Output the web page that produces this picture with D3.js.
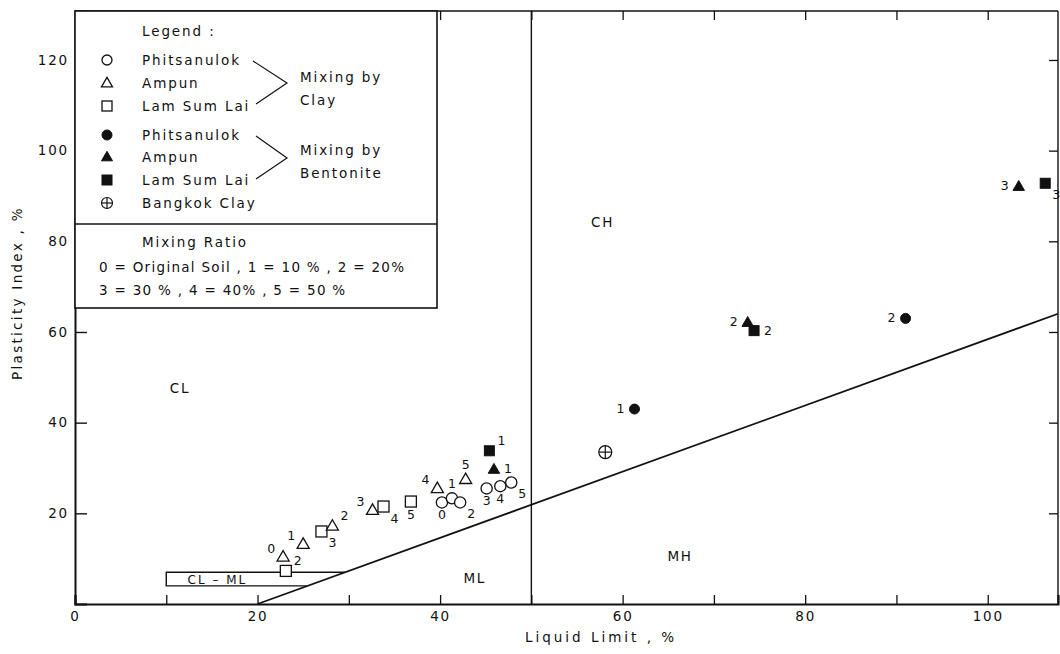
<!DOCTYPE html>
<html>
<head>
<meta charset="utf-8">
<script src="https://cdn.jsdelivr.net/npm/d3@7"></script>
<style>
  html, body { margin: 0; padding: 0; background: #fff; }
  svg { display: block; }
  text { font-family: "DejaVu Sans", "Liberation Sans", sans-serif; fill: #111; }
</style>
</head>
<body>
<svg id="chart" width="1060" height="654"></svg>
<script>
// ---------------- DATA ----------------
// Liquid limit (%) and plasticity index (%)
const ampunClayLL   = [22.8, 25.0, 28.2, 32.6, 39.7, 42.8];
const ampunClayPI   = [10.4, 13.2, 17.2, 20.7, 25.5, 27.5];
const ampunClayLab  = ["0", "1", "2", "3", "4", "5"];
const ampunClaySide = ["tl", "tl", "tr", "tl", "tl", "t"];

const lamClayLL   = [23.1, 27.0, 33.8, 36.8];
const lamClayPI   = [7.3, 16.0, 21.5, 22.6];
const lamClayLab  = ["2", "3", "4", "5"];
const lamClaySide = ["tr", "br", "br", "b"];

const phitClayLL   = [40.2, 41.3, 42.2, 45.1, 46.6, 47.8];
const phitClayPI   = [22.4, 23.3, 22.4, 25.5, 26.0, 26.8];
const phitClayLab  = ["0", "1", "2", "3", "4", "5"];
const phitClaySide = ["b", "t", "br", "b", "b", "br"];

const phitBentLL   = [61.3, 91.0];
const phitBentPI   = [43.0, 63.0];
const phitBentLab  = ["1", "2"];
const phitBentSide = ["l", "l"];

const ampunBentLL   = [45.9, 73.7, 103.4];
const ampunBentPI   = [29.7, 62.1, 92.1];
const ampunBentLab  = ["1", "2", "3"];
const ampunBentSide = ["r", "l", "l"];

const lamBentLL   = [45.4, 74.4, 106.3];
const lamBentPI   = [33.8, 60.3, 92.8];
const lamBentLab  = ["1", "2", "3"];
const lamBentSide = ["tr", "r", "br"];

const bangkokLL = [58.1];
const bangkokPI = [33.5];

const xTickLabels = [0, 20, 40, 60, 80, 100];
const xMinorTicks = [0, 10, 20, 30, 40, 50, 60, 70, 80, 90, 100];
const yTickLabels = [20, 40, 60, 80, 100, 120];

// A-line PI = 0.73 (LL - 20); U boundary at LL = 50; CL-ML band PI 4..7 from LL 10
const aLineSlope = 0.73, aLineOrigin = 20;
const llDivide = 50;
const clmlLow = 4, clmlHigh = 7, clmlStart = 10;

const zoneNames = ["CL", "CH", "ML", "MH"];
const zoneLL    = [11.5, 57.8, 43.8, 66.3];
const zonePI    = [47.6, 84.3, 5.7, 10.6];

// ---------------- LAYOUT ----------------
const svg = d3.select("#chart");
const L = 75, R = 1058, T = 11, B = 604;
const x = d3.scaleLinear().domain([0, 107.7]).range([L, R]);
const y = d3.scaleLinear().domain([0, 130.8]).range([B, T]);
const ink = "#111";

const g = svg.append("g");

// frame (top, right)
g.append("line").attr("x1", L).attr("x2", R).attr("y1", T).attr("y2", T)
  .attr("stroke", ink).attr("stroke-width", 1.6);
g.append("line").attr("x1", R).attr("x2", R).attr("y1", T).attr("y2", B)
  .attr("stroke", ink).attr("stroke-width", 1.4);

// bottom axis: ticks inward
const xAxis = d3.axisBottom(x).tickValues(xMinorTicks).tickSize(-9).tickPadding(7)
  .tickFormat(d => xTickLabels.includes(d) ? d : "");
const gx = g.append("g").attr("transform", `translate(0,${B})`).call(xAxis);
gx.select(".domain").attr("stroke", ink).attr("stroke-width", 2.2);
gx.selectAll(".tick line").attr("stroke", ink).attr("stroke-width", 1.3);
gx.selectAll(".tick text").attr("font-size", 13.5).attr("letter-spacing", 1.8)
  .attr("font-family", "DejaVu Sans").attr("fill", ink);

// top axis ticks inward
const xTop = d3.axisTop(x).tickValues(xMinorTicks.filter(d => d > 0)).tickSize(-9).tickFormat("");
const gxt = g.append("g").attr("transform", `translate(0,${T})`).call(xTop);
gxt.select(".domain").remove();
gxt.selectAll(".tick line").attr("stroke", ink).attr("stroke-width", 1.3);

// left axis ticks inward
const yAxis = d3.axisLeft(y).tickValues(yTickLabels).tickSize(-12).tickPadding(6);
const gy = g.append("g").attr("transform", `translate(${L},0)`).call(yAxis);
gy.select(".domain").attr("stroke", ink).attr("stroke-width", 2);
gy.selectAll(".tick line").attr("stroke", ink).attr("stroke-width", 1.4);
gy.selectAll(".tick text").attr("font-size", 13.5).attr("letter-spacing", 1.8)
  .attr("font-family", "DejaVu Sans").attr("fill", ink);

// right axis ticks inward
const yRight = d3.axisRight(y).tickValues(yTickLabels).tickSize(-9).tickFormat("");
const gyr = g.append("g").attr("transform", `translate(${R},0)`).call(yRight);
gyr.select(".domain").remove();
gyr.selectAll(".tick line").attr("stroke", ink).attr("stroke-width", 1.3);

// axis titles
svg.append("text").attr("x", 601).attr("y", 642).attr("text-anchor", "middle")
  .attr("font-size", 13.5).attr("letter-spacing", 3).text("Liquid Limit , %");
svg.append("text").attr("transform", "translate(22,293) rotate(-90)").attr("text-anchor", "middle")
  .attr("font-size", 13.5).attr("letter-spacing", 2.3).text("Plasticity Index , %");

// vertical LL = 50 line
g.append("line").attr("x1", x(llDivide)).attr("x2", x(llDivide)).attr("y1", y(0)).attr("y2", T)
  .attr("stroke", ink).attr("stroke-width", 1.4);

// A-line
const aLine = ll => aLineSlope * (ll - aLineOrigin);
const llMax = x.domain()[1];
g.append("line").attr("x1", x(aLineOrigin)).attr("y1", y(0))
  .attr("x2", x(llMax)).attr("y2", y(aLine(llMax)))
  .attr("stroke", ink).attr("stroke-width", 1.8);

// CL-ML band
const llAtPI = pi => aLineOrigin + pi / aLineSlope;
g.append("path").attr("fill", "none").attr("stroke", ink).attr("stroke-width", 1.4)
  .attr("d", `M${x(llAtPI(clmlHigh))},${y(clmlHigh)} L${x(clmlStart)},${y(clmlHigh)} L${x(clmlStart)},${y(clmlLow)} L${x(llAtPI(clmlLow))},${y(clmlLow)}`);
g.append("text").attr("x", x(15.6)).attr("y", y((clmlLow + clmlHigh) / 2) + 4.5)
  .attr("text-anchor", "middle").attr("font-size", 12).attr("letter-spacing", 2)
  .text("CL \u2013 ML");

// zone names
g.selectAll("text.zone").data(zoneNames).join("text").attr("class", "zone")
  .attr("x", (d, i) => x(zoneLL[i])).attr("y", (d, i) => y(zonePI[i]) + 5)
  .attr("text-anchor", "middle").attr("font-size", 13.5).attr("letter-spacing", 1.8)
  .text(d => d);

// ---------------- SYMBOLS ----------------
function shape(sel, kind, filled, s) {
  const fill = filled ? ink : "#fff";
  const sw = filled ? 1 : 1.3;
  if (kind === "circle") {
    sel.append("circle").attr("r", s).attr("fill", fill).attr("stroke", ink).attr("stroke-width", sw);
  } else if (kind === "square") {
    sel.append("rect").attr("x", -s).attr("y", -s).attr("width", 2 * s).attr("height", 2 * s)
      .attr("fill", fill).attr("stroke", ink).attr("stroke-width", sw);
  } else if (kind === "triangle") {
    const h = s * 1.9;
    sel.append("path").attr("d", `M0,${-h * 0.6} L${s * 1.1},${h * 0.4} L${-s * 1.1},${h * 0.4} Z`)
      .attr("fill", fill).attr("stroke", ink).attr("stroke-width", sw).attr("stroke-linejoin", "miter");
  } else if (kind === "cross") {
    sel.append("circle").attr("r", s).attr("fill", "#fff").attr("stroke", ink).attr("stroke-width", 1.2);
    sel.append("line").attr("x1", -s).attr("x2", s).attr("stroke", ink).attr("stroke-width", 1.2);
    sel.append("line").attr("y1", -s).attr("y2", s).attr("stroke", ink).attr("stroke-width", 1.2);
  }
}

const sideOffset = {
  l:  [-10, 4, "end"],   r:  [10, 4, "start"],
  t:  [0, -10, "middle"], b: [0, 17, "middle"],
  tl: [-8, -4, "end"],   tr: [8, -6, "start"],
  bl: [-8, 16, "end"],   br: [7, 16, "start"]
};

function series(LL, PI, labels, sides, kind, filled, s) {
  const pts = LL.map((d, i) => ({ ll: d, pi: PI[i], lab: labels ? labels[i] : null, side: sides ? sides[i] : null }));
  const gg = g.append("g");
  const pg = gg.selectAll("g").data(pts).join("g")
    .attr("transform", d => `translate(${x(d.ll)},${y(d.pi)})`);
  pg.each(function () { shape(d3.select(this), kind, filled, s); });
  pg.filter(d => d.lab !== null).append("text")
    .attr("x", d => sideOffset[d.side][0]).attr("y", d => sideOffset[d.side][1])
    .attr("text-anchor", d => sideOffset[d.side][2])
    .attr("font-size", 12.5).text(d => d.lab);
}

series(lamClayLL, lamClayPI, lamClayLab, lamClaySide, "square", false, 5.5);
series(ampunClayLL, ampunClayPI, ampunClayLab, ampunClaySide, "triangle", false, 5.5);
series(phitClayLL, phitClayPI, phitClayLab, phitClaySide, "circle", false, 5.6);
series(phitBentLL, phitBentPI, phitBentLab, phitBentSide, "circle", true, 5);
series(ampunBentLL, ampunBentPI, ampunBentLab, ampunBentSide, "triangle", true, 5.2);
series(lamBentLL, lamBentPI, lamBentLab, lamBentSide, "square", true, 5);
series(bangkokLL, bangkokPI, null, null, "cross", false, 6.5);

// ---------------- LEGEND ----------------
const lg = svg.append("g");
lg.append("rect").attr("x", L).attr("y", T).attr("width", 437 - L).attr("height", 308 - T)
  .attr("fill", "#fff").attr("stroke", ink).attr("stroke-width", 1.6);
lg.append("line").attr("x1", L).attr("x2", 437).attr("y1", 224).attr("y2", 224)
  .attr("stroke", ink).attr("stroke-width", 1.6);

const legText = (tx, ty, str) => lg.append("text").attr("x", tx).attr("y", ty + 4.7)
  .attr("font-size", 13.5).attr("letter-spacing", 1.9).text(str);

legText(142, 31, "Legend :");
const legRows = [
  ["circle", false, "Phitsanulok", 60],
  ["triangle", false, "Ampun", 83],
  ["square", false, "Lam Sum Lai", 106],
  ["circle", true, "Phitsanulok", 135],
  ["triangle", true, "Ampun", 157],
  ["square", true, "Lam Sum Lai", 180],
  ["cross", false, "Bangkok Clay", 203]
];
legRows.forEach(r => {
  const sg = lg.append("g").attr("transform", `translate(107,${r[3]})`);
  shape(sg, r[0], r[1], r[0] === "cross" ? 5.5 : 5);
  legText(142, r[3], r[2]);
});
lg.append("path").attr("fill", "none").attr("stroke", ink).attr("stroke-width", 1.2)
  .attr("d", "M253,61 L287,83 L256,104");
lg.append("path").attr("fill", "none").attr("stroke", ink).attr("stroke-width", 1.2)
  .attr("d", "M256,136 L287,158 L256,179");
legText(300, 77, "Mixing  by");
legText(300, 100, "Clay");
legText(300, 150, "Mixing  by");
legText(300, 173, "Bentonite");
legText(142, 242, "Mixing  Ratio");
lg.append("text").attr("x", 99).attr("y", 271.5).attr("font-size", 13.5).attr("letter-spacing", 1.3)
  .text("0 = Original  Soil ,  1 = 10 % , 2 = 20%");
lg.append("text").attr("x", 99).attr("y", 294.5).attr("font-size", 13.5).attr("letter-spacing", 1.3)
  .text("3 = 30 % ,  4 = 40% , 5 = 50 %");
</script>
</body>
</html>
